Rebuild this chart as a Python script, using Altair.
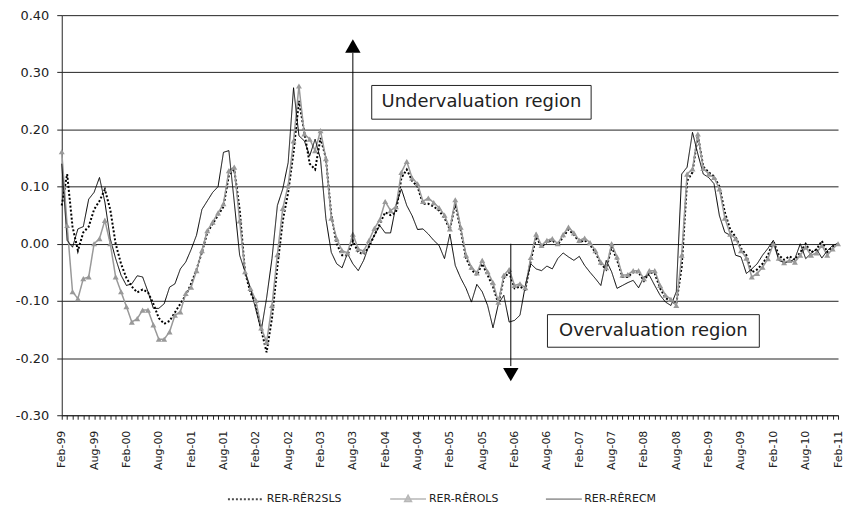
import altair as alt
import pandas as pd

# ---------------- data ----------------
tick_labels = ["Feb-99", "Aug-99", "Feb-00", "Aug-00", "Feb-01", "Aug-01", "Feb-02",
               "Aug-02", "Feb-03", "Aug-03", "Feb-04", "Aug-04", "Feb-05", "Aug-05",
               "Feb-06", "Aug-06", "Feb-07", "Aug-07", "Feb-08", "Aug-08", "Feb-09",
               "Aug-09", "Feb-10", "Aug-10", "Feb-11"]

series_names = ["RER-RÊR2SLS", "RER-RÊROLS", "RER-RÊRECM"]

rer_2sls = [
    0.067, 0.122, 0.030, -0.012, 0.020, 0.030, 0.060, 0.075, 0.095, 0.060,
    0.000, -0.035, -0.060, -0.075, -0.085, -0.080, -0.085, -0.105, -0.130, -0.140,
    -0.135, -0.120, -0.105, -0.090, -0.070, -0.045, -0.015, 0.020, 0.035, 0.050,
    0.065, 0.120, 0.130, 0.060, -0.050, -0.085, -0.105, -0.150, -0.190, -0.130,
    -0.040, 0.040, 0.090, 0.160, 0.250, 0.195, 0.140, 0.130, 0.185, 0.150,
    0.050, 0.000, -0.020, -0.020, 0.005, -0.015, -0.018, -0.005, 0.015, 0.035,
    0.055, 0.050, 0.055, 0.115, 0.130, 0.110, 0.100, 0.070, 0.070, 0.065,
    0.058, 0.045, 0.025, 0.070, 0.025, -0.025, -0.045, -0.055, -0.035, -0.055,
    -0.075, -0.105, -0.060, -0.050, -0.078, -0.075, -0.080, -0.030, 0.012, -0.005,
    0.003, 0.006, -0.002, 0.012, 0.025, 0.016, 0.003, 0.006, -0.002, -0.015,
    -0.035, -0.045, -0.005, -0.028, -0.058, -0.058, -0.050, -0.050, -0.065, -0.050,
    -0.052, -0.078, -0.095, -0.100, -0.105, -0.040, 0.110, 0.125, 0.190, 0.135,
    0.125, 0.118, 0.100, 0.055, 0.025, 0.012, -0.008, -0.020, -0.050, -0.045,
    -0.035, -0.020, 0.005, -0.020, -0.028, -0.022, -0.028, -0.015, 0.000, -0.015,
    -0.010, 0.005, -0.015, -0.005, 0.000]

rer_ols = [
    0.161, 0.032, -0.084, -0.096, -0.061, -0.058, 0.000, 0.009, 0.041, 0.000,
    -0.058, -0.084, -0.110, -0.137, -0.131, -0.116, -0.116, -0.142, -0.167, -0.167,
    -0.154, -0.125, -0.119, -0.087, -0.076, -0.047, -0.012, 0.023, 0.038, 0.054,
    0.070, 0.128, 0.134, 0.040, -0.049, -0.078, -0.099, -0.147, -0.172, -0.108,
    -0.019, 0.062, 0.102, 0.180, 0.276, 0.192, 0.183, 0.163, 0.198, 0.149,
    0.045, 0.009, -0.012, -0.016, 0.017, -0.009, -0.013, 0.006, 0.027, 0.042,
    0.074, 0.058, 0.065, 0.125, 0.144, 0.115, 0.105, 0.074, 0.080, 0.072,
    0.063, 0.050, 0.026, 0.077, 0.029, -0.020, -0.041, -0.051, -0.029, -0.049,
    -0.068, -0.102, -0.055, -0.045, -0.073, -0.070, -0.077, -0.024, 0.017, -0.003,
    0.006, 0.009, 0.000, 0.016, 0.029, 0.019, 0.006, 0.010, 0.002, -0.012,
    -0.032, -0.042, 0.000, -0.023, -0.055, -0.054, -0.047, -0.047, -0.061, -0.047,
    -0.047, -0.073, -0.090, -0.097, -0.108, -0.020, 0.122, 0.131, 0.192, 0.132,
    0.122, 0.116, 0.096, 0.045, 0.017, 0.009, -0.012, -0.025, -0.058, -0.052,
    -0.041, -0.026, 0.000, -0.025, -0.033, -0.029, -0.032, -0.020, -0.006, -0.020,
    -0.016, -0.003, -0.020, -0.009, 0.000]

rer_ecm = [
    0.140, 0.006, -0.006, 0.026, 0.030, 0.078, 0.090, 0.116, 0.073, 0.009,
    -0.026, -0.055, -0.073, -0.070, -0.056, -0.058, -0.084, -0.113, -0.113, -0.105,
    -0.076, -0.070, -0.044, -0.032, -0.010, 0.015, 0.060, 0.075, 0.090, 0.100,
    0.160, 0.163, 0.073, -0.020, -0.049, -0.078, -0.115, -0.152, -0.095, -0.026,
    0.067, 0.096, 0.142, 0.273, 0.189, 0.180, 0.154, 0.183, 0.148, 0.044,
    -0.015, -0.035, -0.042, -0.017, -0.035, -0.047, -0.029, -0.003, 0.015, 0.032,
    0.019, 0.019, 0.067, 0.096, 0.067, 0.049, 0.025, 0.026, 0.017, 0.006,
    -0.003, -0.026, 0.017, -0.038, -0.060, -0.078, -0.102, -0.071, -0.084, -0.108,
    -0.147, -0.105, -0.090, -0.137, -0.134, -0.125, -0.073, -0.035, -0.044, -0.047,
    -0.039, -0.044, -0.026, -0.016, -0.023, -0.029, -0.022, -0.038, -0.050, -0.061,
    -0.073, -0.029, -0.049, -0.078, -0.073, -0.068, -0.064, -0.077, -0.058, -0.055,
    -0.073, -0.090, -0.102, -0.108, -0.084, 0.122, 0.134, 0.195, 0.157, 0.122,
    0.116, 0.105, 0.049, 0.020, 0.015, -0.020, -0.023, -0.052, -0.044, -0.035,
    -0.020, -0.008, 0.006, -0.029, -0.033, -0.032, -0.026, 0.000, -0.026, -0.017,
    -0.009, -0.025, -0.012, -0.003, 0.000]

# annotation content
arrow_x = [54.0, 83.3]
arrow_from = [0.0, 0.0]
arrow_to = [0.334, -0.214]
arrow_head = [0.346, -0.229]
box_text = ["Undervaluation region", "Overvaluation region"]
box_x1 = [57.5, 90.1]
box_x2 = [98.2, 129.4]
box_y1 = [0.277, -0.124]
box_y2 = [0.218, -0.181]

# ---------------- tables ----------------
rows = []
for name, vals in zip(series_names, [rer_2sls, rer_ols, rer_ecm]):
    for i, v in enumerate(vals):
        rows.append({"idx": i, "value": v, "series": name})
df = pd.DataFrame(rows)

arrows = pd.DataFrame({"x": arrow_x, "y0": arrow_from, "y1": arrow_to,
                       "yh": arrow_head, "dir": ["up", "down"]})
boxes = pd.DataFrame({"text": box_text, "x1": box_x1, "x2": box_x2,
                      "y1": box_y1, "y2": box_y2})
boxes["xc"] = (boxes.x1 + boxes.x2) / 2
boxes["yc"] = (boxes.y1 + boxes.y2) / 2

FONT = "DejaVu Sans"
DARK = "#222222"
GRAY = "#999999"
n_last = len(rer_ols) - 1
PLOT_W, PLOT_H = 780, 402

label_arr = "[" + ",".join("'" + t + "'" for t in tick_labels) + "]"
x_label_expr = f"datum.value % 6 === 0 ? {label_arr}[floor(datum.value / 6)] : ''"

x_scale = alt.Scale(domain=[0, n_last], nice=False, zero=False)
y_scale = alt.Scale(domain=[-0.3, 0.4], nice=False, zero=False)

x_axis = alt.Axis(values=list(range(0, n_last + 1)), tickCount=1000,
                  labelExpr=x_label_expr,
                  labelAngle=270, labelFontSize=11, labelColor=DARK, labelFont=FONT,
                  labelPadding=11, labelOverlap=False, labelFlush=False,
                  tickSize=4, tickColor=DARK, domainColor=DARK, grid=False, title=None)
y_axis = alt.Axis(values=[-0.3, -0.2, -0.1, 0.0, 0.1, 0.2, 0.3, 0.4], tickCount=1000,
                  labelExpr="(datum.value < 0 ? '-' : '') + format(abs(datum.value), '.2f')",
                  labelFontSize=13, labelColor=DARK, labelFont=FONT, labelPadding=8,
                  tickSize=5, tickColor=DARK, domainColor=DARK,
                  grid=True, gridColor=DARK, gridWidth=1, title=None,
                  minExtent=54, maxExtent=54)

X = alt.X("idx:Q", scale=x_scale, axis=x_axis)
Y = alt.Y("value:Q", scale=y_scale, axis=y_axis)

color_range = ["black", GRAY, "black"]
dash_range = [[2, 2], [1, 0], [1, 0]]
width_range = [2, 1, 1]


def legend_def():
    return alt.Legend(title=None, orient="none", direction="horizontal",
                      legendX=166, legendY=476,
                      symbolSize=324, symbolOffset=9, labelOffset=11,
                      labelFont=FONT, labelFontSize=11, labelColor=DARK,
                      columnPadding=45)


# legend-only layer: no rows reach its marks, the legend comes from the scales
leg_df = pd.DataFrame({"series": series_names, "idx": [0, 0, 0], "value": [0.0, 0.0, 0.0]})
legend_paths = ["M-2,0H2", "M-2,0H2M0,-0.42L0.38,0.28L-0.38,0.28Z", "M-2,0H2"]
legend_layer = alt.Chart(leg_df).transform_filter(
    alt.datum.series == "__none__"
).mark_point(filled=True).encode(
    x=X, y=Y,
    shape=alt.Shape("series:N", scale=alt.Scale(domain=series_names, range=legend_paths),
                    legend=legend_def()),
    fill=alt.Fill("series:N", scale=alt.Scale(domain=series_names, range=color_range),
                  legend=legend_def()),
    stroke=alt.Stroke("series:N", scale=alt.Scale(domain=series_names, range=color_range),
                      legend=legend_def()),
    strokeDash=alt.StrokeDash("series:N", scale=alt.Scale(domain=series_names, range=dash_range),
                              legend=legend_def()),
    strokeWidth=alt.StrokeWidth("series:N", scale=alt.Scale(domain=series_names, range=width_range),
                                legend=legend_def()),
)

lines = alt.Chart(df).mark_line(interpolate="linear").encode(
    x=X, y=Y,
    stroke=alt.Stroke("series:N", scale=alt.Scale(domain=series_names, range=color_range)),
    strokeDash=alt.StrokeDash("series:N", scale=alt.Scale(domain=series_names, range=dash_range)),
    strokeWidth=alt.StrokeWidth("series:N", scale=alt.Scale(domain=series_names, range=width_range)),
    detail="series:N",
)

points = alt.Chart(df).transform_filter(
    alt.datum.series == series_names[1]
).mark_point(shape="triangle-up", filled=True, size=36, color=GRAY, opacity=1).encode(
    x=alt.X("idx:Q", scale=x_scale), y=alt.Y("value:Q", scale=y_scale)
)

arrow_lines = alt.Chart(arrows).mark_rule(color="black", strokeWidth=1).encode(
    x=alt.X("x:Q", scale=x_scale), y=alt.Y("y0:Q", scale=y_scale), y2="y1:Q"
)
head_up = alt.Chart(arrows).transform_filter(alt.datum.dir == "up").mark_point(
    shape="triangle-up", filled=True, color="black", size=240, opacity=1
).encode(x=alt.X("x:Q", scale=x_scale), y=alt.Y("yh:Q", scale=y_scale))
head_down = alt.Chart(arrows).transform_filter(alt.datum.dir == "down").mark_point(
    shape="triangle-down", filled=True, color="black", size=240, opacity=1
).encode(x=alt.X("x:Q", scale=x_scale), y=alt.Y("yh:Q", scale=y_scale))

box_rects = alt.Chart(boxes).mark_rect(fill="white", stroke=DARK, strokeWidth=1).encode(
    x=alt.X("x1:Q", scale=x_scale), x2="x2:Q",
    y=alt.Y("y1:Q", scale=y_scale), y2="y2:Q"
)
box_texts = alt.Chart(boxes).mark_text(font=FONT, fontSize=18, color=DARK,
                                       align="center", baseline="middle").encode(
    x=alt.X("xc:Q", scale=x_scale), y=alt.Y("yc:Q", scale=y_scale), text="text:N"
)

chart = alt.layer(
    legend_layer, lines, points, arrow_lines, head_up, head_down,
    box_rects, box_texts
).properties(
    width=PLOT_W, height=PLOT_H,
    padding={"left": 0, "top": 0, "right": 2, "bottom": 0},
    background="white",
).configure_view(strokeWidth=0)

chart.save("out.html", embed_options={"renderer": "svg", "actions": False})
